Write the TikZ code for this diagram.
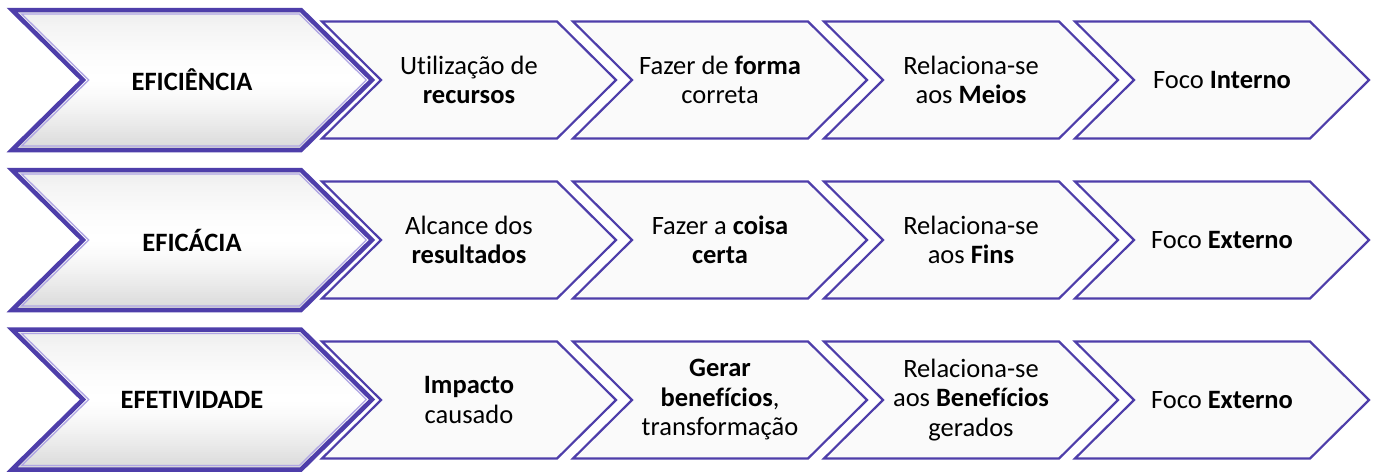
\documentclass[tikz,border=0pt]{standalone}
\usepackage{fontspec}
\setmainfont{Carlito}[Ligatures=NoCommon]
\definecolor{chevpurple}{RGB}{78,62,170}
\definecolor{chevlight}{RGB}{175,165,228}
\tikzset{
  x=1pt, y=-1pt,
  smallline/.style={draw=chevpurple, line width=2.2pt, line join=miter, fill=white!98!black},
  bigline/.style={draw=chevpurple, line width=4.5pt, line join=miter},
  biginner/.style={draw=chevlight, line width=1.3pt, line join=miter},
  txt/.style={align=center, inner sep=0pt, font=\fontsize{26.5}{29.5}\selectfont, text=black},
  smallchev/.pic={
    \path[smallline] (0,-58.5) -- (235,-58.5) -- (294,0) -- (235,58.5) -- (0,58.5) -- (59,0) -- cycle;
  },
  bigchev/.pic={
    \begin{scope}
      \clip (0,-70) -- (289,-70) -- (360,0) -- (289,70) -- (0,70) -- (71,0) -- cycle;
      \foreach \k in {0,...,69}{
        \pgfmathsetmacro\yy{-70+2*\k+1}
        \pgfmathsetmacro\pc{7*pow(max(-\yy,0.01)/70,1.6) + 15*pow(max(\yy,0.01)/70,1.3)}
        \fill[black!\pc] (-5,\yy-1) rectangle (370,\yy+1.3);
      }
    \end{scope}
    \path[biginner] (9.7,-66) -- (287.4,-66) -- (354.3,0) -- (287.4,66) -- (9.7,66) -- (76.7,0) -- cycle;
    \path[bigline] (0,-70) -- (289,-70) -- (360,0) -- (289,70) -- (0,70) -- (71,0) -- cycle;
  }
}
\begin{document}
\begin{tikzpicture}
\useasboundingbox (0,0) rectangle (1373,472);
\fill[white] (0,0) rectangle (1373,472);
% row chevrons
\foreach \yc in {80,240,400}{
  \foreach \i in {0,1,2,3}{
    \pic at ({322+251*\i},\yc) {smallchev};
  }
}
\pic at (12,80) {bigchev};
\pic at (12,240) {bigchev};
\pic at (12,399.5) {bigchev};
% row 1
\node[txt] (r1big) at (192,80) {\textbf{EFICIÊNCIA}};
\node[txt] (r1a) at (469,80) {Utilização de\\\textbf{recursos}};
\node[txt] (r1b) at (720,80) {Fazer de \textbf{forma}\\correta};
\node[txt] (r1c) at (971,80) {Relaciona-se\\aos \textbf{Meios}};
\node[txt] (r1d) at (1222,80) {Foco \textbf{Interno}};
% row 2
\node[txt] (r2big) at (192,240) {\textbf{EFICÁCIA}};
\node[txt] (r2a) at (469,240) {Alcance dos\\\textbf{resultados}};
\node[txt] (r2b) at (720,240) {Fazer a \textbf{coisa}\\\textbf{certa}};
\node[txt] (r2c) at (971,240) {Relaciona-se\\aos \textbf{Fins}};
\node[txt] (r2d) at (1222,240) {Foco \textbf{Externo}};
% row 3
\node[txt] (r3big) at (192,400) {\textbf{EFETIVIDADE}};
\node[txt] (r3a) at (469,400) {\textbf{Impacto}\\causado};
\node[txt] (r3b) at (720,400) {\textbf{Gerar}\\\textbf{benefícios},\\transformação};
\node[txt] (r3c) at (971,400) {Relaciona-se\\aos \textbf{Benefícios}\\gerados};
\node[txt] (r3d) at (1222,400) {Foco \textbf{Externo}};
\end{tikzpicture}
\end{document}
